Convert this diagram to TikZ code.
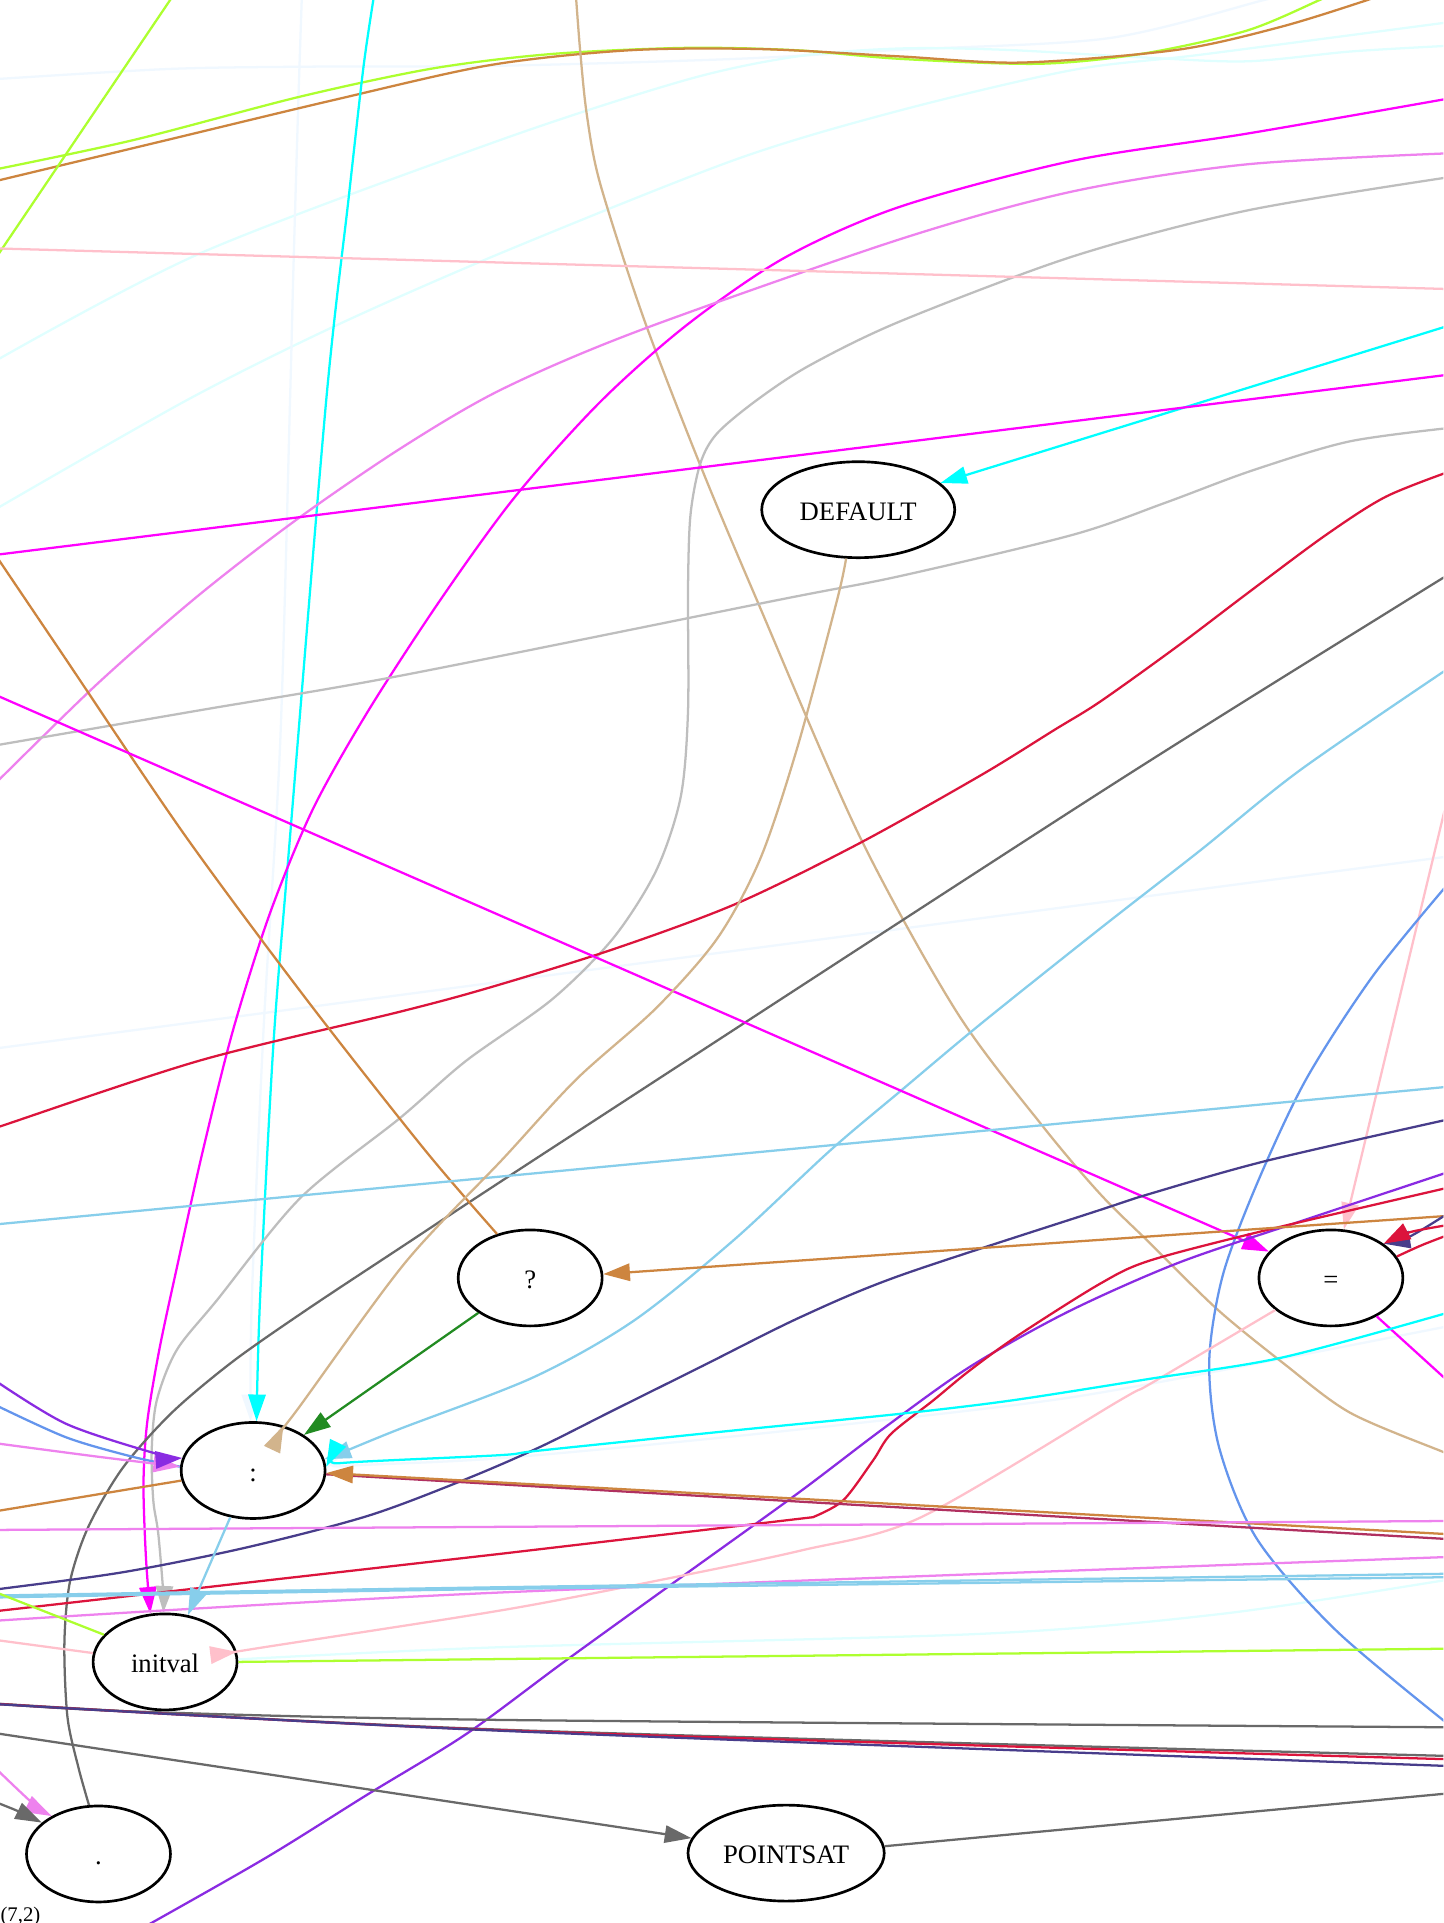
\documentclass[tikz,border=0pt]{standalone}
\usepackage{fontspec}
\setmainfont{Liberation Serif}
\usetikzlibrary{arrows.meta,shapes.geometric}
\definecolor{cGY}{HTML}{ADFF2F}
\definecolor{cPeru}{HTML}{CD853F}
\definecolor{cAlice}{HTML}{F0F8FF}
\definecolor{cLCyan}{HTML}{E0FFFF}
\definecolor{cCyan}{HTML}{00FFFF}
\definecolor{cTan}{HTML}{D2B48C}
\definecolor{cMag}{HTML}{FF00FF}
\definecolor{cViolet}{HTML}{EE82EE}
\definecolor{cGray}{HTML}{BEBEBE}
\definecolor{cPink}{HTML}{FFC0CB}
\definecolor{cCrim}{HTML}{DC143C}
\definecolor{cDim}{HTML}{696969}
\definecolor{cSky}{HTML}{87CEEB}
\definecolor{cCorn}{HTML}{6495ED}
\definecolor{cDSB}{HTML}{483D8B}
\definecolor{cBV}{HTML}{8A2BE2}
\definecolor{cFG}{HTML}{228B22}
\definecolor{cMaroon}{HTML}{B03060}
\begin{document}
\begin{tikzpicture}[x=0.46pt,y=-0.46pt,
  gnode/.style={ellipse,draw=black,line width=1pt,inner sep=0pt,minimum width=54pt,minimum height=36pt,font=\fontsize{10}{12}\selectfont,text height=8pt,text depth=0pt},
  wide/.style={minimum width=72.4pt},
  edge/.style={line width=0.85pt},
  headed/.style={-{Triangle[length=10pt,width=6.5pt]}}]
\fill[white] (0,0) rectangle (1177,1568);
\useasboundingbox (0,0) rectangle (1177,1568);
\clip (0,0) rectangle (1177,1568);

% nodes
\node[gnode,wide] (DEF) at (699.8,415.6) {DEFAULT};
\node[gnode] (q) at (432.3,1042) {?};
\node[gnode] (eq) at (1085.2,1042) {=};
\node[gnode] (colon) at (206.4,1199) {:};
\node[gnode] (initval) at (134.6,1355.1) {initval};
\node[gnode] (dot) at (80.3,1511.7) {.};
\node[gnode,minimum width=73.6pt] (PS) at (641,1511) {POINTSAT};
\node[anchor=base west,inner sep=0pt,font=\fontsize{7.8}{9}\selectfont] (lbl) at (0,1566.5) {(7,2)};

% pale lines
\draw[edge,cAlice] plot[smooth] coordinates {(-5,64.6) (136,56.3) (244.7,54.4) (407.8,53.6) (600,48) (734,40.6) (903.5,31.2) (1030.6,0) (1040,-3)};
\draw[edge,cLCyan] plot[smooth] coordinates {(-5,295) (163.1,206.6) (407.8,114.2) (560,65) (650,46) (734,39.5) (818.7,40.6) (931.7,46.8) (1016.5,50) (1101,42) (1177,37.5) (1185,37)};
\draw[edge,cLCyan] plot[smooth] coordinates {(-5,416) (152.3,326.3) (271.9,266.4) (407.8,206.6) (600,130) (734,90) (875,57) (979.8,44.5) (1177,18.7) (1185,17.5)};
\draw[edge,cAlice,headed] plot[smooth] coordinates {(246.2,-5) (243.3,81.6) (239.3,217.5) (236.5,326.3) (228.4,607.2) (214.8,841.3) (205.3,1060.4) (colon.93)};
\draw[edge,cAlice] (-5,855.1) -- (1182,698.2);
\draw[edge,cAlice,headed] plot[smooth] coordinates {(1186,1080.4) (938,1128.3) (824.7,1146) (600,1171) (407.8,1189) (286.8,1195) (colon.1)};
\draw[edge,cLCyan] plot[smooth] coordinates {(initval.2.3) (407.8,1343.1) (800,1332.2) (996.3,1315.9) (1177,1288.7) (1186,1287)};

% top curves
\draw[edge,cGY] plot[smooth] coordinates {(-5,138.4) (108.8,114.2) (244.7,78.8) (353.5,55.7) (450,44) (560,39) (650,41) (734,48) (847,52) (932,43.7) (1016.5,25) (1076,0) (1084,-4)};
\draw[edge,cPeru] plot[smooth] coordinates {(-5,148) (136,114.2) (271.9,81.6) (400,53) (513,41) (620,40) (734,46) (833,51) (960,40.6) (1044.7,21.8) (1115,0) (1123,-4)};
\draw[edge,cGY] (142.1,-5) -- (-3.8,211);
\draw[edge,cCyan,headed] plot[smooth] coordinates {(305.2,-5) (296.4,54.4) (284.1,163.1) (266,326.3) (236.5,682.1) (223,850.6) (212,1060.4) (colon.86.6)};
\draw[edge,cTan] plot[smooth] coordinates {(469.5,-5) (473,40.6) (478.5,93.6) (489.4,149.8) (525,260) (571,379.3) (617.2,489.4) (700,680) (780,825) (850,918) (897.2,973.7) (938,1014) (993,1068) (1047,1112) (1101,1152) (1177,1184) (1186,1187.5)};
\draw[edge,cMag,headed] plot[smooth] coordinates {(1186,79.5) (1016.5,109) (875,131) (734,168.5) (640,210) (560,265) (489.4,327.7) (420,405) (358.9,489.4) (300,580) (255,660) (220,745) (190,840) (165,940) (145,1030) (130,1100) (120,1160) (117,1210) (119,1270) (initval.107.4)};
\draw[edge,cViolet] plot[smooth] coordinates {(1186,124.8) (1016.5,134) (875,156) (734,195) (520,270) (408,318) (326,366) (240,425) (160,487) (80,557) (0,635) (-5,640)};
\draw[edge,cGray,headed] plot[smooth] coordinates {(1186,143.8) (1016.5,171.7) (875,209) (734,262) (660,298) (617,326.3) (584.6,353.5) (571,378) (563,420) (561,480) (561,580) (555,650) (535,710) (500,765) (450,815) (380,865) (326.3,911.5) (244.7,977) (176.7,1060.4) (144,1101) (127.8,1142) (123.7,1182.7) (125,1223.5) (129,1250) (133,1297) (initval.92.3)};
\draw[edge,cPink] (-5,202.5) -- (1182,235.7);
\draw[edge,cCyan,headed] (1182,265.3) -- (DEF.18.3);
\draw[edge,cMag] (-5,452.6) -- (1182,305.4);
\draw[edge,cGray] plot[smooth] coordinates {(-5,608) (163.1,579.1) (326.3,551) (633.5,489.4) (734,469.7) (875,436) (950,410) (1020,384) (1100,360) (1186,348.5)};
\draw[edge,cCrim] plot[smooth] coordinates {(1186,383) (1130,405) (1080,437) (1016.8,484) (960,527) (897.2,572) (860,595) (800,632) (700,688) (600,737) (500,774) (400,805) (326.3,824.9) (163.1,864.7) (0,918.5) (-5,920.2)};
\draw[edge,cDim] plot[smooth] coordinates {(1186,465.7) (1147.3,489.4) (897.2,646) (447.3,938) (326.3,1017.5) (250,1068) (190,1110) (140,1152) (100,1197) (72,1245) (57,1290) (52.5,1340) (55,1400) (63.9,1441) (dot.101.9)};
\draw[edge,cSky,headed] plot[smooth] coordinates {(1186,541.6) (1060.3,627.8) (978.8,693.3) (897.2,757) (800,834.6) (735,889) (677,938) (598,1011.4) (516.6,1077) (435,1123) (326.3,1165) (282.8,1182.7) (colon.9.2)};
\draw[edge,cPeru] plot[smooth] coordinates {(q.127.2) (346.7,938) (250,815) (150,680) (50,532) (-4,452)};
\draw[edge,cMag,headed] (-5,566) -- (eq.157.5);
\draw[edge,cPink,headed] (1180,652) -- (eq.75.1);
\draw[edge,cCorn] plot[smooth] coordinates {(1183,718) (1120,795) (1065,880) (1025,965) (997,1040) (986,1110) (994,1180) (1025,1255) (1090,1330) (1186,1410)};
\draw[edge,cSky] (-5,998.5) -- (1182,886);
\draw[edge,cDSB] plot[smooth] coordinates {(1186,911.6) (1033.1,946.4) (938,973.3) (897.2,986.5) (734,1040) (652.6,1074) (571,1114.7) (500,1150) (440,1180) (380,1206) (300,1236) (200,1262) (100,1282) (0,1295.6) (-5,1296.2)};
\draw[edge,cBV] plot[smooth] coordinates {(1186,954) (1060,996) (960,1030) (870,1070) (790,1115) (720,1165) (650,1218) (550,1290) (460,1355) (380,1414) (300,1463) (217.5,1514.4) (122,1568.8) (110,1575)};
\draw[edge,cCrim] plot[smooth] coordinates {(1186,967.2) (1033.1,1002.9) (938,1027.7) (897.2,1046.6) (830,1089) (790,1118) (760.9,1141.9) (726.6,1169.1) (711.9,1190.8) (687.4,1223.5) (662.8,1237.1)} -- (407.8,1267) -- (-5,1313.9);
\draw[edge,cPeru,headed] (1182,991.3) -- (q.3.8);
\draw[edge,cDSB,headed] plot[smooth] coordinates {(1186,986) (1150,1008) (eq.33.4)};
\draw[edge,cCrim,headed] plot[smooth] coordinates {(1186,998) (1150,1004.6) (eq.33.4)};
\draw[edge,cCrim] plot[smooth] coordinates {(eq.18.9) (1160,1015) (1186,1005)};
\draw[edge,cMag] (eq.320.6) -- (1186,1131);
\draw[edge,cPink,headed] plot[smooth] coordinates {(eq.210.5) (938,1128.3) (912.9,1141.9) (751.1,1237.1) (653,1264.3) (530,1290) (407.8,1313.2) (214.8,1343.2) (initval.8.4)};
\draw[edge,cCyan,headed] plot[smooth] coordinates {(1186,1068.8) (1046.8,1106.6) (938,1124.2) (824.7,1141.9) (734,1152.8) (598,1166.4) (440.5,1182.7) (407.8,1186.5) (286.8,1192.3) (colon.3.8)};
\draw[edge,cMaroon] (colon.-3.5) -- (1182,1255);
\draw[edge,cPeru,headed] (1182,1251) -- (colon.-2);
\draw[edge,cViolet] (-5,1247.5) -- (1182,1240.2);
\draw[edge,cViolet] plot[smooth] coordinates {(-5,1321.6) (407.8,1298.5) (1182,1269.5)};
\draw[edge,cSky] plot[smooth] coordinates {(-5,1301) (407.8,1294.2) (1182,1283.2)};
\draw[edge,cSky] plot[smooth] coordinates {(-5,1302.6) (407.8,1295.6) (1182,1286)};
\draw[edge,cGY] (initval.0.5) -- (1182,1344.3);
\draw[edge,cDim] plot[smooth] coordinates {(-5,1389) (108.8,1395.5) (407.8,1402.4) (1182,1408.4)};
\draw[edge,cDim] plot[smooth] coordinates {(-5,1389) (407.8,1410.3) (1182,1431.8)};
\draw[edge,cCrim] plot[smooth] coordinates {(-5,1389.2) (407.8,1410.8) (1182,1434.5)};
\draw[edge,cDSB] plot[smooth] coordinates {(-5,1389.4) (407.8,1411.2) (1182,1440)};
\draw[edge,cDim,headed] (-5,1413) -- (PS.171.9);
\draw[edge,cDim] (PS.4.3) -- (1182,1462.2);
\draw[edge,cViolet,headed] plot[smooth] coordinates {(-6,1439.5) (27.2,1470.9) (dot.141.6)};
\draw[edge,cDim,headed] plot[smooth] coordinates {(-6,1468.5) (13.6,1476.3) (dot.151.5)};
\draw[edge,cCorn] plot[smooth] coordinates {(colon.177.5) (108.8,1188) (54,1172) (-5,1145)};
\draw[edge,cViolet,headed] plot[smooth] coordinates {(-5,1176.6) (81.6,1188) (colon.177.2)};
\draw[edge,cBV,headed] plot[smooth] coordinates {(-5,1125) (54,1161) (128,1185.5) (colon.170.9)};
\draw[edge,cPeru] (colon.188.2) -- (-5,1232.5);
\draw[edge,cSky,headed] (colon.244.7) -- (initval.64.1);
\draw[edge,cFG,headed] (q.214.4) -- (colon.35.1);
\draw[edge,cGY] (initval.156.9) -- (-5,1297.7);
\draw[edge,cPink] (initval.173.7) -- (-5,1337);
\draw[edge,cTan,headed] plot[smooth] coordinates {(DEF.256.7) (682.5,489.4) (650,610) (620,700) (585,765) (535,822) (470,880) (410,945) (330,1030) (242,1150) (colon.56.1)};
\end{tikzpicture}
\end{document}
